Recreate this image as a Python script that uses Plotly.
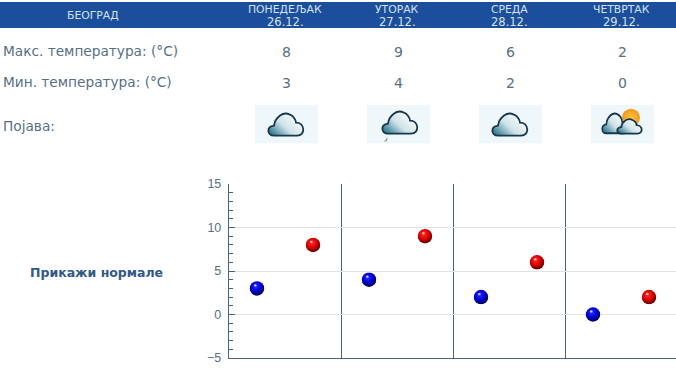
import base64
import plotly.graph_objects as go

W, H = 676, 380
L, R, T, B = 229, 676, 183.5, 358

city = "БЕОГРАД"
days = ["ПОНЕДЕЉАК", "УТОРАК", "СРЕДА", "ЧЕТВРТАК"]
dates = ["26.12.", "27.12.", "28.12.", "29.12."]
max_temp = [8, 9, 6, 2]
min_temp = [3, 4, 2, 0]
row_labels = ["Макс. температура: (°C)", "Мин. температура: (°C)", "Појава:"]
normals_label = "Прикажи нормале"
y_ticks = [-5, 0, 5, 10, 15]
col_centers = [285, 397, 509, 621]
icon_lefts = [255, 367, 479, 591]

BAND = 112
Y_MIN, Y_MAX = -5, 15
TEXT = "#566f85"
HEAD = "#d5e0ee"
FONT = "DejaVu Sans"


def px(x):
    return (x - L) / (R - L)


def py(y):
    return (B - y) / (B - T)


def svg_uri(body):
    svg = (
        '<svg xmlns="http://www.w3.org/2000/svg" width="189" height="117" viewBox="0 0 63 39">'
        '<defs><linearGradient id="c" x1="0" y1="1" x2="1" y2="0.3">'
        '<stop offset="0" stop-color="#0b6379"/><stop offset="0.5" stop-color="#cfe2e9"/>'
        '<stop offset="1" stop-color="#ffffff"/></linearGradient>'
        '<radialGradient id="s"><stop offset="0" stop-color="#ffc040"/>'
        '<stop offset="1" stop-color="#ee9a20"/></radialGradient></defs>'
        '<rect width="63" height="39" fill="#eff7fa"/>' + body + "</svg>"
    )
    return "data:image/svg+xml;base64," + base64.b64encode(svg.encode()).decode()


def sphere_uri(light, mid, dark):
    svg = (
        '<svg xmlns="http://www.w3.org/2000/svg" width="60" height="60" viewBox="0 0 30 30">'
        '<defs><radialGradient id="b" cx="0.42" cy="0.36" r="0.62">'
        f'<stop offset="0" stop-color="{light}"/><stop offset="0.55" stop-color="{mid}"/>'
        f'<stop offset="1" stop-color="{dark}"/></radialGradient>'
        '<radialGradient id="h"><stop offset="0" stop-color="#ffffff"/>'
        '<stop offset="1" stop-color="#ffffff" stop-opacity="0"/></radialGradient></defs>'
        '<circle cx="15" cy="15" r="14.5" fill="url(#b)"/>'
        '<ellipse cx="11.5" cy="9" rx="4" ry="3.4" fill="url(#h)"/></svg>'
    )
    return "data:image/svg+xml;base64," + base64.b64encode(svg.encode()).decode()


CLOUD = "M19 31C12 31 11 22 19 21C20 13 28 6 35 10C38 11 41 15 41 18C50 18 51 31 42 31Z"
cloud = f'<path d="{CLOUD}" fill="url(#c)" stroke="#17384a" stroke-width="1.8"/>'
rain = (
    f'<g transform="translate(2,-2)">{cloud}</g>'
    '<path d="M20 33.5L19.5 36L17.5 36.5" fill="none" stroke="#5a7a8a" stroke-width="1"/>'
)
sun = (
    '<circle cx="40" cy="13" r="9" fill="url(#s)"/>'
    '<g transform="translate(1.6,0.8) scale(0.72,0.9)">'
    f'<path d="{CLOUD}" fill="url(#c)" stroke="#17384a" stroke-width="2.2"/></g>'
    '<g transform="translate(16.9,8.8) scale(0.7,0.65)">'
    f'<path d="{CLOUD}" fill="url(#c)" stroke="#17384a" stroke-width="2.6"/></g>'
)
icon_bodies = [cloud, rain, cloud, sun]

fig = go.Figure()
min_x = [i + 0.25 for i in range(len(min_temp))]
max_x = [i + 0.75 for i in range(len(max_temp))]
fig.add_trace(go.Scatter(
    x=min_x, y=min_temp, mode="markers", name="мин", cliponaxis=False,
    marker=dict(size=13, color="#0000c8", line=dict(width=0)),
))
fig.add_trace(go.Scatter(
    x=max_x, y=max_temp, mode="markers", name="макс", cliponaxis=False,
    marker=dict(size=13, color="#d80000", line=dict(width=0)),
))

ann = []


def text(x, y, s, size=13, color=TEXT, anchor="left", bold=False):
    ann.append(dict(
        xref="paper", yref="paper", x=px(x), y=py(y), text=f"<b>{s}</b>" if bold else s,
        showarrow=False, xanchor=anchor, yanchor="middle",
        font=dict(family=FONT, size=size, color=color), borderpad=0, borderwidth=0,
    ))


text(93, 15, city, size=10.8, color=HEAD, anchor="center")
for c, d, dt, mx, mn in zip(col_centers, days, dates, max_temp, min_temp):
    text(c, 8, d, size=10.8, color=HEAD, anchor="center")
    text(c, 21, dt, size=11.5, color=HEAD, anchor="center")
    text(c + 1, 51, str(mx), size=14, anchor="center")
    text(c + 1, 82, str(mn), size=14, anchor="center")
for yy, s in zip([50, 81, 125], row_labels):
    text(3, yy, s, size=13.7)
text(96, 272, normals_label, size=12.5, color="#2f5a85", anchor="center", bold=True)

images = [
    dict(source=svg_uri(b), xref="paper", yref="paper", x=px(x0), y=py(104),
         sizex=63 / (R - L), sizey=39 / (B - T), xanchor="left", yanchor="top",
         sizing="stretch", layer="above")
    for x0, b in zip(icon_lefts, icon_bodies)
]
# Sphere shading laid over each marker, positioned through the data axes.
PT = 15
size_x = PT / BAND
size_y = PT * (Y_MAX - Y_MIN) / (B - T)
for xs, ys, cols in [(min_x, min_temp, ("#2e2eff", "#0000d2", "#00005a")),
                     (max_x, max_temp, ("#ff2e2e", "#dc0000", "#640000"))]:
    for xv, yv in zip(xs, ys):
        images.append(dict(source=sphere_uri(*cols), xref="x", yref="y", x=xv, y=yv,
                           sizex=size_x, sizey=size_y, xanchor="center", yanchor="middle",
                           sizing="stretch", layer="above"))

fig.update_layout(
    width=W, height=H, showlegend=False, autosize=False,
    paper_bgcolor="white", plot_bgcolor="white",
    margin=dict(l=L, r=W - R, t=T, b=H - B, pad=0),
    annotations=ann, images=images,
    shapes=[dict(type="rect", xref="paper", yref="paper", x0=px(0), x1=px(W),
                 y0=py(1), y1=py(27), fillcolor="#1b4f9c", line=dict(width=0), layer="below")],
    xaxis=dict(
        range=[0, (R - L) / BAND], tickvals=[1, 2, 3], showticklabels=False, ticks="",
        showgrid=True, gridcolor="#46647b", gridwidth=1.4, zeroline=False,
        showline=True, linecolor="#46647b", linewidth=1.4,
    ),
    yaxis=dict(
        range=[Y_MIN, Y_MAX], tickvals=y_ticks, ticks="inside", ticklen=6, tickcolor="#46647b",
        tickwidth=1, showgrid=True, gridcolor="#dfe3e6", gridwidth=1.3, zeroline=False,
        showline=True, linecolor="#46647b", linewidth=1.4, ticklabelstandoff=4,
        tickfont=dict(family="Liberation Sans", size=12.5, color=TEXT),
        minor=dict(dtick=1, ticks="inside", ticklen=4, tickcolor="#46647b", tickwidth=1,
                   showgrid=False),
    ),
)

fig.write_html("out.html", config=dict(displayModeBar=False),
               post_script="document.body.style.margin='0';")
